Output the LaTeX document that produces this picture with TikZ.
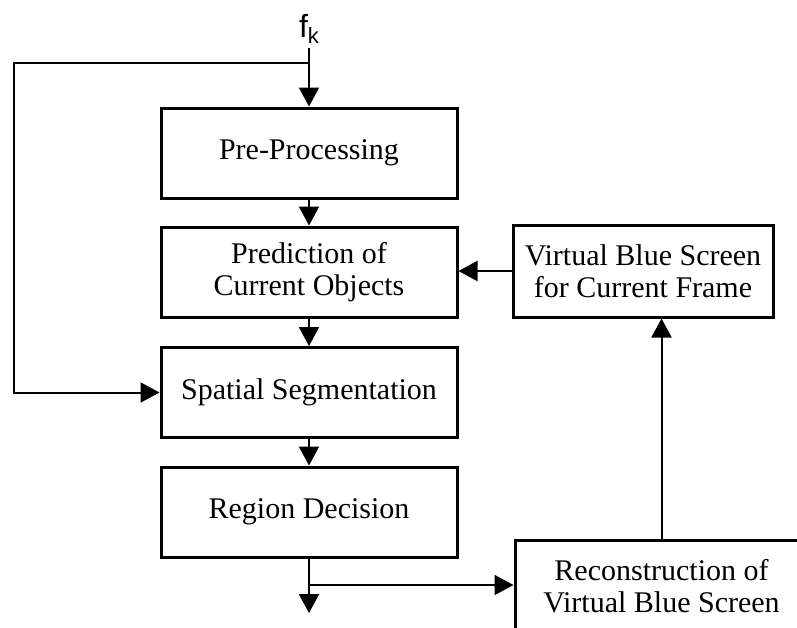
\documentclass[tikz,border=0pt]{standalone}
\usepackage{fontspec}
\setmainfont{Liberation Serif}
\newfontfamily\subfont{Liberation Sans}
\usepackage{tikz}
\usetikzlibrary{arrows.meta,positioning,calc}
\tikzset{
  pbox/.style={draw=black,fill=white,line width=1.5pt,align=center,inner sep=2pt,
    font=\fontsize{15}{16}\selectfont},
  parr/.style={-{Triangle[length=9.5pt,width=10pt]},line width=1pt,draw=black},
  pline/.style={line width=1pt,draw=black}
}

\begin{document}
\begin{tikzpicture}[x=0.5pt,y=-0.5pt]
  \clip (0,0) rectangle (797,627);
  % main chain
  \node[pbox,minimum width=148pt,minimum height=45pt] (pre) at (309,153) {Pre-Processing};
  \node[pbox,minimum width=148pt,minimum height=45pt] (pred) at (309,272) {Prediction of\\Current Objects};
  \node[pbox,minimum width=148pt,minimum height=45pt] (spat) at (309,392.5) {Spatial Segmentation};
  \node[pbox,minimum width=148pt,minimum height=45pt] (reg) at (309,512) {Region Decision};
  % feedback side
  \node[pbox,minimum width=130pt,minimum height=46pt] (vbs) at (643,271) {Virtual Blue Screen\\for Current Frame};
  \node[pbox,minimum width=146.5pt,minimum height=46pt] (recon) at (661.5,586) {Reconstruction of\\Virtual Blue Screen};
  % input
  \node[anchor=base,inner sep=0pt,font=\subfont\fontsize{16}{16}\selectfont] (fk) at (309,37)
    {f\raisebox{-3pt}{\fontsize{11}{11}\selectfont k}};
  \coordinate (top) at (309,48);
  \coordinate (split) at (309,63);
  \coordinate (corner) at (14,63);
  \coordinate (branch) at (309,585);
  \coordinate (out) at (309,613);
  \draw[parr] (top) -- (pre.north);
  \draw[parr] (split) -- (corner) |- (spat.west);
  \draw[parr] (pre) -- (pred);
  \draw[parr] (pred) -- (spat);
  \draw[parr] (spat) -- (reg);
  \draw[parr] (reg) -- (out);
  \draw[parr] (branch) -- (branch -| recon.west);
  \draw[parr] (recon.north) -- (recon.north |- vbs.south);
  \draw[parr] (vbs.west) -- (vbs.west -| pred.east);
\end{tikzpicture}
\end{document}
